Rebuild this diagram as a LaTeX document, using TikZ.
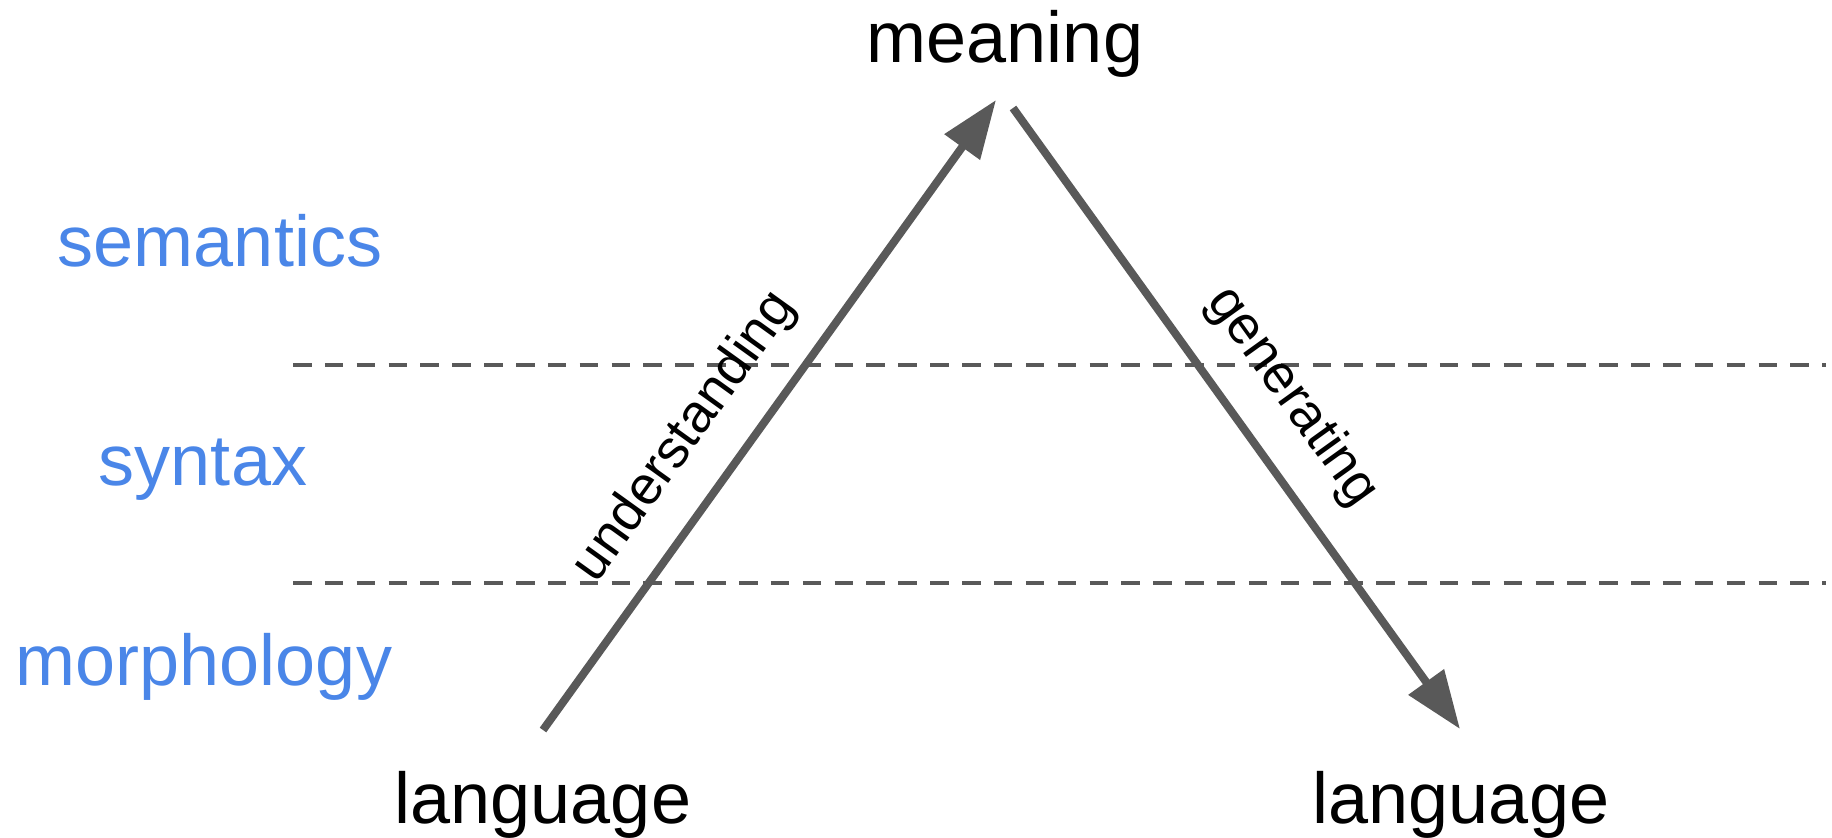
\documentclass[tikz,border=0pt]{standalone}
\usepackage{fontspec}
\setmainfont{Liberation Sans}
\usetikzlibrary{arrows.meta}
\definecolor{linegray}{HTML}{595959}
\definecolor{levelblue}{HTML}{4A86E8}
\begin{document}
\begin{tikzpicture}[x=0.5pt,y=-0.5pt,
  word/.style={inner sep=0pt, anchor=base, font=\fontsize{36}{43}\selectfont},
  level/.style={word, text=levelblue},
  lbl/.style={inner sep=0pt, anchor=center, font=\fontsize{27}{32}\selectfont},
  arr/.style={draw=linegray, line width=4pt, -{Triangle[length=29pt,width=21pt]}},
  divider/.style={draw=linegray, line width=2pt, dash pattern=on 9.25pt off 6.68pt}]
\useasboundingbox (0,0) rectangle (1832,837);
% words
\node[word] (meaning) at (1005,62) {meaning};
\node[word] (langL) at (543,823) {language};
\node[word] (langR) at (1461,823) {language};
% levels
\node[level] (sem) at (220,266) {semantics};
\node[level] (syn) at (203,485) {syntax};
\node[level] (mor) at (204,685) {morphology};
% dividers
\coordinate (d1a) at (293,365); \coordinate (d1b) at (1826,365);
\coordinate (d2a) at (293,583); \coordinate (d2b) at (1826,583);
\draw[divider] (d1a) -- (d1b);
\draw[divider] (d2a) -- (d2b);
% arrows
\coordinate (u1) at (543,730); \coordinate (u2) at (996,100);
\coordinate (g1) at (1013,108); \coordinate (g2) at (1460,729);
\draw[arr] (u1) -- (u2);
\draw[arr] (g1) -- (g2);
\node[lbl, rotate=54.3] (und) at (685,437) {understanding};
\node[lbl, rotate=-54.3] (gen) at (1292,397) {generating};
\end{tikzpicture}
\end{document}
